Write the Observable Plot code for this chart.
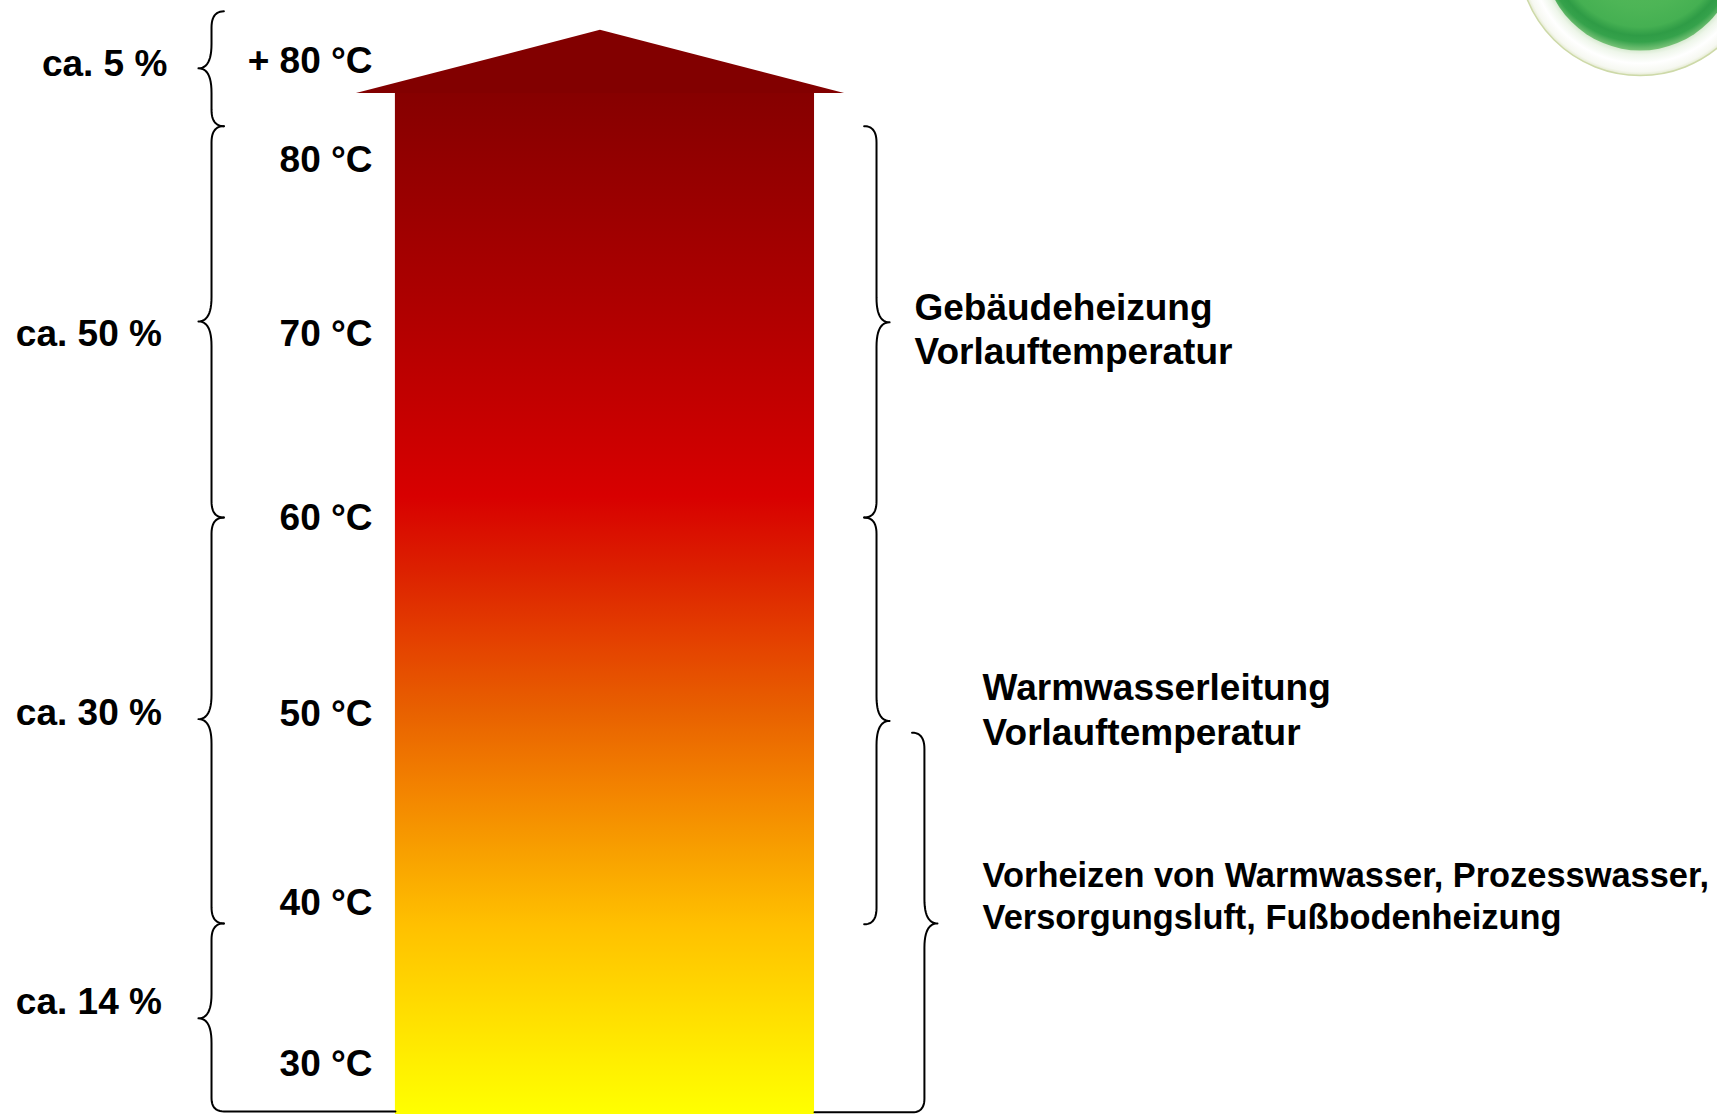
<!DOCTYPE html>
<html>
<head>
<meta charset="utf-8">
<script src="https://cdn.jsdelivr.net/npm/d3@7"></script>
<script src="https://cdn.jsdelivr.net/npm/@observablehq/plot@0.6"></script>
<style>
html, body { margin: 0; padding: 0; background: #ffffff; overflow: hidden; }
#chart svg { display: block; }
</style>
</head>
<body>
<div id="chart"></div>
<script>
// ---------- DATA (vertical unit = °C) ----------
// Temperature labels beside the arrow
const tempLabels   = ["+ 80 °C", "80 °C", "70 °C", "60 °C", "50 °C", "40 °C", "30 °C"];
const tempLabelAt  = [85.5, 80, 70.4, 60.2, 49.4, 38.9, 30];

// Share of waste heat per temperature band (left braces)
const shareLabels  = ["ca. 5 %", "ca. 50 %", "ca. 30 %", "ca. 14 %"];
const shareLow     = [81.9, 60.25, 37.8, 27.4];
const shareHigh    = [88.25, 81.9, 60.25, 37.8];
const shareMid     = [85.1, 71.1, 49.1, 32.55];
const shareLabelAt = [85.35, 70.4, 49.45, 33.45];

// Applications (right braces)
const appLabels  = [
  "Gebäudeheizung\nVorlauftemperatur",
  "Warmwasserleitung\nVorlauftemperatur",
  "Vorheizen von Warmwasser, Prozesswasser,\nVersorgungsluft, Fußbodenheizung"
];
const appLow     = [60.25, 37.75, 27.35];
const appHigh    = [81.9, 60.25, 48.35];
const appMid     = [71.05, 49.0, 37.8];
const appLabelAt = [70.75, 49.7, 39.4];

// Arrow (temperature extent)
const arrowBottom = 27.23, arrowShoulder = 83.7, arrowTip = 87.2;

// Colour gradient of the arrow
const stopTemps  = [83.7, 73.1, 65.3, 61.4, 57.4, 53.5, 49.6, 45.6, 41.7, 37.7, 33.8, 29.9, 27.23];
const stopColors = ["#860000", "#aa0000", "#c80000", "#d80000", "#dc2000", "#e44000", "#e86000",
                    "#f28000", "#f8a000", "#ffc000", "#ffd800", "#fff000", "#ffff00"];

// ---------- LAYOUT (horizontal unit = % of width) ----------
const col = {
  shareText: [9.72, 9.4, 9.4, 9.4], shareBrace: 12.29, tempText: 21.67,
  arrowL: 23.0, arrowR: 47.41, headL: 20.73, headR: 49.16, tipX: 34.94,
  appBrace: [51.02, 51.02, 53.81], appText: [53.23, 57.2, 57.2]
};
const logo = {x: 95.5, y: 91.45};

// ---------- brace geometry ----------
function quad(p0, c, p1, n = 12) {
  const pts = [];
  for (let i = 1; i <= n; i++) {
    const t = i / n, u = 1 - t;
    pts.push([u*u*p0[0] + 2*u*t*c[0] + t*t*p1[0], u*u*p0[1] + 2*u*t*c[1] + t*t*p1[1]]);
  }
  return pts;
}
function brace(xv, lo, hi, mid, side, ext) {
  const ex = 0.72, tx = 0.76, dE = 0.9, dT = 1.35, dB = ext != null ? 0.75 : dE;
  const xe = xv - side * ex, xt = xv + side * tx;
  let pts = [[xe, hi]];
  pts = pts.concat(quad([xe, hi], [xv, hi], [xv, hi - dE]));
  pts.push([xv, mid + dT]);
  pts = pts.concat(quad([xv, mid + dT], [xv, mid], [xt, mid]));
  pts = pts.concat(quad([xt, mid], [xv, mid], [xv, mid - dT]));
  pts.push([xv, lo + dB]);
  pts = pts.concat(quad([xv, lo + dB], [xv, lo], [xe, lo]));
  if (ext != null) pts.push([ext, lo]);
  return pts;
}
const braceRows = [];
shareLabels.forEach((_, i) => {
  const ext = i === shareLabels.length - 1 ? col.arrowL : null;
  brace(col.shareBrace, shareLow[i], shareHigh[i], shareMid[i], -1, ext)
    .forEach(([x, y]) => braceRows.push({x, y, id: "s" + i}));
});
appLabels.forEach((_, i) => {
  const ext = i === appLabels.length - 1 ? col.arrowR : null;
  brace(col.appBrace[i], appLow[i], appHigh[i], appMid[i], 1, ext)
    .forEach(([x, y]) => braceRows.push({x, y, id: "a" + i}));
});

const headPts = [
  {x: col.headL, y: arrowShoulder},
  {x: col.tipX, y: arrowTip},
  {x: col.headR, y: arrowShoulder}
];

const font = "'Liberation Sans', Arial, Helvetica, sans-serif";

const plot = Plot.plot({
  width: 1717,
  height: 1114,
  margin: 0,
  style: {fontFamily: font, background: "#ffffff", color: "#000"},
  x: {domain: [0, 100], axis: null},
  y: {domain: [27.23, 88.85], axis: null},
  marks: [
    // logo (partially visible, top right)
    Plot.dot([logo], {x: "x", y: "y", r: 122, fill: "url(#ringGrad)", stroke: "#cdd9a8", strokeWidth: 1.5}),
    Plot.dot([logo], {x: "x", y: "y", r: 97, fill: "url(#greenGrad)"}),
    // arrow body and head
    Plot.rect([{}], {x1: col.arrowL, x2: col.arrowR, y1: arrowBottom, y2: arrowShoulder + 0.05, fill: "url(#heat)"}),
    Plot.areaY(headPts, {x: "x", y1: arrowShoulder, y2: "y", fill: "#820000"}),
    // braces
    Plot.line(braceRows, {x: "x", y: "y", z: "id", stroke: "#000", strokeWidth: 2, strokeLinejoin: "round", strokeLinecap: "round"}),
    // labels
    Plot.text(tempLabels, {x: col.tempText, y: (d, i) => tempLabelAt[i], text: d => d,
      textAnchor: "end", fontSize: 37, fontWeight: "bold", fill: "#000", fontFamily: font}),
    Plot.text(shareLabels, {x: (d, i) => col.shareText[i], y: (d, i) => shareLabelAt[i], text: d => d,
      textAnchor: "end", fontSize: 37, fontWeight: "bold", fill: "#000", fontFamily: font}),
    Plot.text(appLabels.slice(0, 2), {x: (d, i) => col.appText[i], y: (d, i) => appLabelAt[i], text: d => d,
      textAnchor: "start", fontSize: 37, lineHeight: 1.21, fontWeight: "bold", fill: "#000", fontFamily: font}),
    Plot.text(appLabels.slice(2), {x: col.appText[2], y: appLabelAt[2], text: d => d,
      textAnchor: "start", fontSize: 34.4, lineHeight: 1.23, fontWeight: "bold", fill: "#000", fontFamily: font})
  ]
});

// gradients
const NS = "http://www.w3.org/2000/svg";
const yS = plot.scale("y");
const defs = document.createElementNS(NS, "defs");
function el(name, attrs, parent) {
  const e = document.createElementNS(NS, name);
  for (const k in attrs) e.setAttribute(k, attrs[k]);
  parent.appendChild(e);
  return e;
}
const yTop = yS.apply(arrowShoulder), yBot = yS.apply(arrowBottom);
const lg = el("linearGradient", {id: "heat", gradientUnits: "userSpaceOnUse", x1: 0, x2: 0, y1: yTop, y2: yBot}, defs);
stopTemps.forEach((t, i) => {
  el("stop", {offset: ((yS.apply(t) - yTop) / (yBot - yTop)).toFixed(4), "stop-color": stopColors[i]}, lg);
});
const rg = el("radialGradient", {id: "ringGrad"}, defs);
[[0.78, "#cfe6c8"], [0.83, "#eef6ea"], [0.9, "#ffffff"], [0.97, "#f6f8f1"], [1, "#e4eacf"]]
  .forEach(([o, c]) => el("stop", {offset: o, "stop-color": c}, rg));
const gg = el("radialGradient", {id: "greenGrad", cx: "0.5", cy: "0.45", r: "0.55"}, defs);
[[0, "#5cbc5e"], [0.6, "#4db556"], [0.78, "#45b052"], [0.86, "#2f9c46"], [0.92, "#35a24b"], [1, "#7cc47a"]]
  .forEach(([o, c]) => el("stop", {offset: o, "stop-color": c}, gg));
plot.insertBefore(defs, plot.firstChild);

document.getElementById("chart").appendChild(plot);
</script>
</body>
</html>
